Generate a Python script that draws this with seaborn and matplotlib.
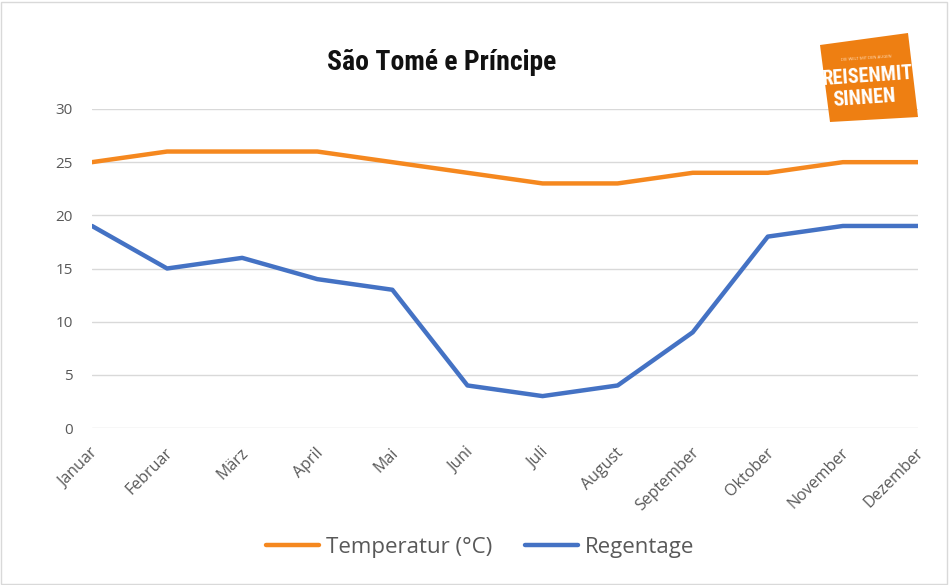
import matplotlib
matplotlib.use("Agg")
import matplotlib.pyplot as plt
import matplotlib.patches as mpatches
import matplotlib.transforms as mtransforms
from matplotlib import font_manager
import seaborn as sns
import pandas as pd

months = ["Januar", "Februar", "März", "April", "Mai", "Juni", "Juli",
          "August", "September", "Oktober", "November", "Dezember"]
temperatur = [25, 26, 26, 26, 25, 24, 23, 23, 24, 24, 25, 25]
regentage = [19, 15, 16, 14, 13, 4, 3, 4, 9, 18, 19, 19]
series_names = ["Temperatur (°C)", "Regentage"]
yticks = [0, 5, 10, 15, 20, 25, 30]

df = pd.DataFrame({
    "Monat": months * 2,
    "Wert": temperatur + regentage,
    "Serie": [series_names[0]] * 12 + [series_names[1]] * 12,
})

sns.set_theme(style="white")
plt.rcParams["font.family"] = ["Open Sans", "DejaVu Sans"]

# pick a narrow font for title / logo if available
available = {f.name for f in font_manager.fontManager.ttflist}
narrow = None
for cand in ["Liberation Sans Narrow", "DejaVu Sans Condensed", "Roboto Condensed",
             "Open Sans Condensed"]:
    if cand in available:
        narrow = cand
        break
if narrow is None:
    narrow_family = ["DejaVu Sans"]
    narrow_stretch = "condensed"
else:
    narrow_family = [narrow, "DejaVu Sans"]
    narrow_stretch = "normal"

fig = plt.figure(figsize=(9.49, 5.85), dpi=100)
ax = fig.add_axes([92 / 949, 157 / 585, (918 - 92) / 949, (428 - 109) / 585])

palette = {series_names[0]: "#F5881F", series_names[1]: "#4472C4"}
sns.lineplot(data=df, x="Monat", y="Wert", hue="Serie", hue_order=series_names,
             palette=palette, linewidth=3.2, sort=False, ax=ax, legend=True)

ax.set_xlim(0, len(months) - 1)
ax.set_ylim(0, 30)
ax.set_yticks(yticks)
ax.set_yticklabels([str(v) for v in yticks])
ax.yaxis.grid(True, color="#D9D9D9", linewidth=1)
ax.set_axisbelow(True)
for s in ax.spines.values():
    s.set_visible(False)
ax.set_xlabel("")
ax.set_ylabel("")
ax.tick_params(axis="y", length=0, pad=14, labelsize=11, labelcolor="#595959")
ax.tick_params(axis="x", length=0, pad=12, labelsize=11.5, labelcolor="#595959")
ax.set_xticks(range(len(months)))
ax.set_xticklabels(months, rotation=45, ha="right", rotation_mode="anchor")
for lbl in ax.get_xticklabels():
    lbl.set_transform(lbl.get_transform() + mtransforms.ScaledTranslation(-2 / 100, 0, fig.dpi_scale_trans))

handles, labels = ax.get_legend_handles_labels()
leg = ax.legend(handles, labels, loc="center", bbox_to_anchor=(480 / 949, 1 - 547 / 585),
                bbox_transform=fig.transFigure, ncol=2, frameon=False, fontsize=16,
                handlelength=2.4, handletextpad=0.3, columnspacing=1.45)
for t in leg.get_texts():
    t.set_color("#595959")
for l in leg.get_lines():
    l.set_linewidth(3.2)

fig.text(442 / 949, 1 - 62 / 585, "São Tomé e Príncipe", ha="center", va="center",
         fontsize=20, fontweight="bold", color="#111111",
         family=narrow_family, fontstretch=narrow_stretch)

# logo
logo_ax = fig.add_axes([815 / 949, 1 - 128 / 585, 110 / 949, 100 / 585])
logo_ax.set_xlim(815, 925)
logo_ax.set_ylim(128, 28)
logo_ax.axis("off")
rect = mpatches.Polygon([(820, 45), (908, 33), (918, 117), (830, 122)], closed=True,
                        facecolor="#EE7F12", edgecolor="none")
logo_ax.add_patch(rect)
logo_ax.text(866, 58, "DIE WELT MIT DEN AUGEN", ha="center", va="center", fontsize=3,
             color="#FFE0C0", rotation=4)
logo_ax.text(868, 76, "REISENMIT", ha="center", va="center", fontsize=14.5,
             fontweight="bold", color="white", rotation=4,
             family=narrow_family, fontstretch=narrow_stretch)
logo_ax.text(864, 98, "SINNEN", ha="center", va="center", fontsize=14.5,
             fontweight="bold", color="white", rotation=4,
             family=narrow_family, fontstretch=narrow_stretch)

border = mpatches.Rectangle((1 / 949, 1 / 585), 946 / 949, 582 / 585, transform=fig.transFigure,
                            fill=False, edgecolor="#D9D9D9", linewidth=1)
fig.patches.append(border)

fig.savefig("out.png", dpi=100)
